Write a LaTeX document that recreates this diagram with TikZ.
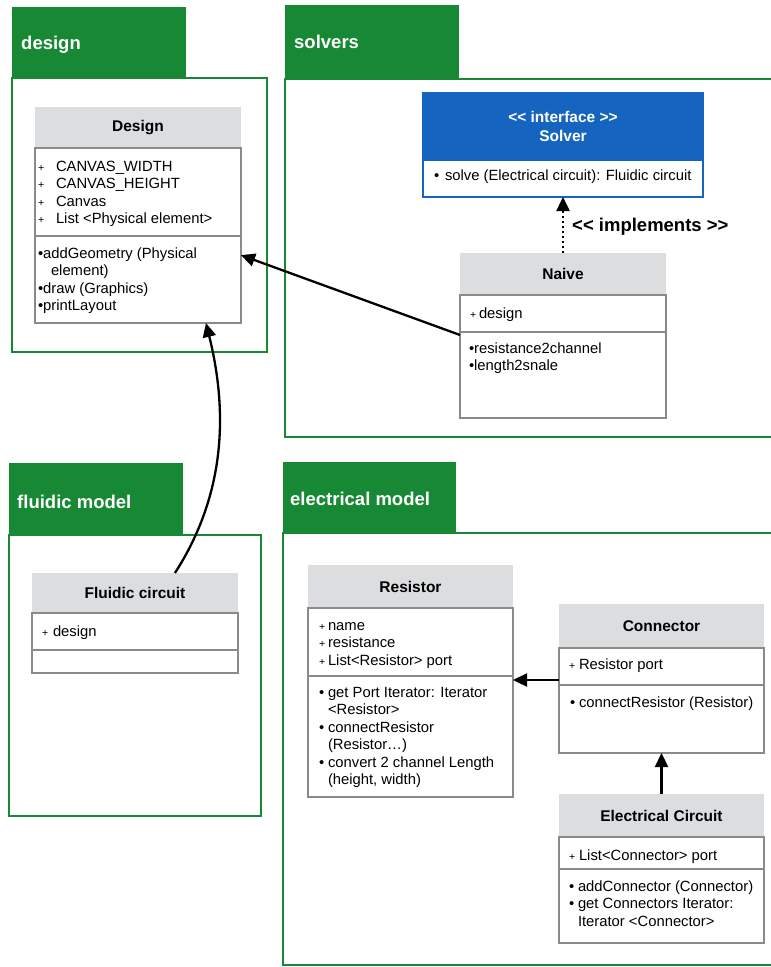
\documentclass[tikz,border=0pt]{standalone}
\usepackage{fontspec}
\setmainfont{Liberation Sans}[Ligatures=TeXOff]
\usetikzlibrary{calc,arrows.meta}

\definecolor{pkggreen}{HTML}{178834}
\definecolor{hdrgray}{HTML}{DCDDDF}
\definecolor{boxgray}{HTML}{8A8A8E}
\definecolor{ifaceblue}{HTML}{1565C0}

% small "+" marker and bullet, each in a box of given width
\newcommand\plm[1]{\makebox[#1][l]{\fontsize{10.5}{10.5}\selectfont+}}
\newcommand\blt[1]{\makebox[#1][l]{•}}

\begin{document}
\begin{tikzpicture}[x=1pt,y=-1pt,
  pkgtab/.style={fill=pkggreen, draw=none},
  pkgframe/.style={draw=pkggreen, line width=2pt},
  pkglabel/.style={text=white, font=\bfseries\fontsize{18.5}{22}\selectfont, anchor=west, inner sep=0pt},
  hdr/.style={fill=hdrgray, draw=none, anchor=north west, inner sep=0pt, outer sep=0pt,
              font=\bfseries\fontsize{15.5}{18}\selectfont},
  comp/.style={draw=boxgray, line width=2.5pt, fill=white, anchor=north west, inner sep=0pt, outer sep=0pt},
  member/.style={anchor=north west, align=left, inner sep=0pt, outer sep=0pt,
                 font=\fontsize{14.8}{17.5}\selectfont},
  assoc/.style={draw=black, line width=2.3pt, -{Triangle[length=14pt,width=13pt]}},
  realize/.style={draw=black, line width=2.5pt, dash pattern=on 2.5pt off 2.5pt,
                  -{Triangle[length=14pt,width=13pt]}},
]
\useasboundingbox (0,0) rectangle (771,967);
\clip (0,0) rectangle (771,967);
\fill[white] (0,0) rectangle (771,967);

% ---------------- packages ----------------
\fill[pkgtab] (12,7) rectangle (186,78);
\draw[pkgframe] (12,78) rectangle (267,352);
\node[pkglabel] (pkg-design) at (21,45) {design};

\fill[pkgtab] (285,5) rectangle (459,79);
\draw[pkgframe] (285,79) rectangle (790,437);
\node[pkglabel] (pkg-solvers) at (294,42) {solvers};

\fill[pkgtab] (9,463) rectangle (183,535);
\draw[pkgframe] (9,535) rectangle (261,816);
\node[pkglabel] (pkg-fluidic) at (17,502) {fluidic model};

\fill[pkgtab] (283,462) rectangle (456,533);
\draw[pkgframe] (283,533) rectangle (790,965);
\node[pkglabel] (pkg-electrical) at (290,499) {electrical model};

% ---------------- Design ----------------
\node[hdr, minimum width=206pt, minimum height=41pt] (design-h) at (35,107) {Design};
\node[comp, minimum width=206pt, minimum height=88pt] (design-a) at (35,148) {};
\node[comp, minimum width=206pt, minimum height=87pt] (design-m) at (35,236) {};
\node[member] (design-at) at (38,158.75) {\strut\plm{18pt}CANVAS\_WIDTH\\
  \plm{18pt}CANVAS\_HEIGHT\\ \plm{18pt}Canvas\\ \plm{18pt}List <Physical element>};
\node[member] (design-mt) at (38,245.75) {\strut•addGeometry (Physical\\
  \hspace*{13pt}element)\\ •draw (Graphics)\\ •printLayout};

% ---------------- Solver interface ----------------
\node[fill=ifaceblue, draw=ifaceblue, line width=1.5pt, anchor=north west, inner sep=0pt, outer sep=0pt,
      minimum width=280pt, minimum height=67pt, text=white, align=center,
      font=\bfseries\fontsize{15.5}{19}\selectfont] (solver-h) at (423,93) {<< interface >>\\Solver};
\node[comp, draw=ifaceblue, line width=2pt, minimum width=280pt, minimum height=37pt] (solver-m) at (423,160) {};
\node[member] (solver-mt) at (434,167.75) {\strut\blt{11pt}solve (Electrical circuit): Fluidic circuit};

% ---------------- Naive ----------------
\node[hdr, minimum width=206pt, minimum height=42pt] (naive-h) at (460,253) {Naive};
\node[comp, minimum width=206pt, minimum height=37pt] (naive-a) at (460,295) {};
\node[comp, minimum width=206pt, minimum height=86pt] (naive-m) at (460,332) {};
\node[member] (naive-at) at (470,305.75) {\strut\plm{9pt}design};
\node[member] (naive-mt) at (469,340.75) {\strut•resistance2channel\\ •length2snale};

% ---------------- Fluidic circuit ----------------
\node[hdr, minimum width=206pt, minimum height=40pt] (fluid-h) at (32,573) {Fluidic circuit};
\node[comp, minimum width=206pt, minimum height=37pt] (fluid-a) at (32,613) {};
\node[comp, minimum width=206pt, minimum height=23pt] (fluid-m) at (32,650) {};
\node[member] (fluid-at) at (42,623.75) {\strut\plm{11pt}design};

% ---------------- Resistor ----------------
\node[hdr, minimum width=205pt, minimum height=43pt] (res-h) at (308,565) {Resistor};
\node[comp, minimum width=205pt, minimum height=68pt] (res-a) at (308,608) {};
\node[comp, minimum width=205pt, minimum height=121pt] (res-m) at (308,676) {};
\node[member] (res-at) at (319,617.75) {\strut\plm{9pt}name\\ \plm{9pt}resistance\\
  \plm{9pt}List<Resistor> port};
\node[member] (res-mt) at (319,684.75) {\strut\blt{9pt}get Port Iterator: Iterator\\
  \hspace*{9pt}<Resistor>\\ \blt{9pt}connectResistor\\ \hspace*{9pt}(Resistor…)\\
  \blt{9pt}convert 2 channel Length\\ \hspace*{9pt}(height, width)};

% ---------------- Connector ----------------
\node[hdr, minimum width=205pt, minimum height=44pt] (con-h) at (559,604) {Connector};
\node[comp, minimum width=205pt, minimum height=37pt] (con-a) at (559,648) {};
\node[comp, minimum width=205pt, minimum height=68pt] (con-m) at (559,685) {};
\node[member] (con-at) at (569,656.75) {\strut\plm{10pt}Resistor port};
\node[member] (con-mt) at (570,694.75) {\strut\blt{9pt}connectResistor (Resistor)};

% ---------------- Electrical Circuit ----------------
\node[hdr, minimum width=205pt, minimum height=43pt] (ec-h) at (559,794) {Electrical Circuit};
\node[comp, minimum width=205pt, minimum height=32pt] (ec-a) at (559,837) {};
\node[comp, minimum width=205pt, minimum height=74pt] (ec-m) at (559,869) {};
\node[member] (ec-at) at (569,847.75) {\strut\plm{10pt}List<Connector> port};
\node[member] (ec-mt) at (569,878.75) {\strut\blt{9pt}addConnector (Connector)\\
  \blt{9pt}get Connectors Iterator:\\ \hspace*{9pt}Iterator <Connector>};

% ---------------- relations ----------------
\draw[realize] (naive-h.north) -- (solver-m.south);
\node[anchor=west, inner sep=0pt, font=\bfseries\fontsize{18.5}{22}\selectfont] (impl-label) at (572,227) {<< implements >>};

\draw[assoc] ($(naive-m.north west)+(0,3)$) -- ($(design-m.north east)!0.22!(design-m.south east)$);

\draw[assoc] ($(fluid-h.north west)!0.694!(fluid-h.north east)$)
  .. controls +(47,-73) and +(24,97) .. ($(design-m.south west)!0.83!(design-m.south east)$);

\coordinate (conport) at ($(con-a.south west)+(0,-5)$);
\draw[assoc] (conport) -- (conport -| res-m.east);

\draw[assoc] (ec-h.north) -- (con-m.south);
\end{tikzpicture}
\end{document}
